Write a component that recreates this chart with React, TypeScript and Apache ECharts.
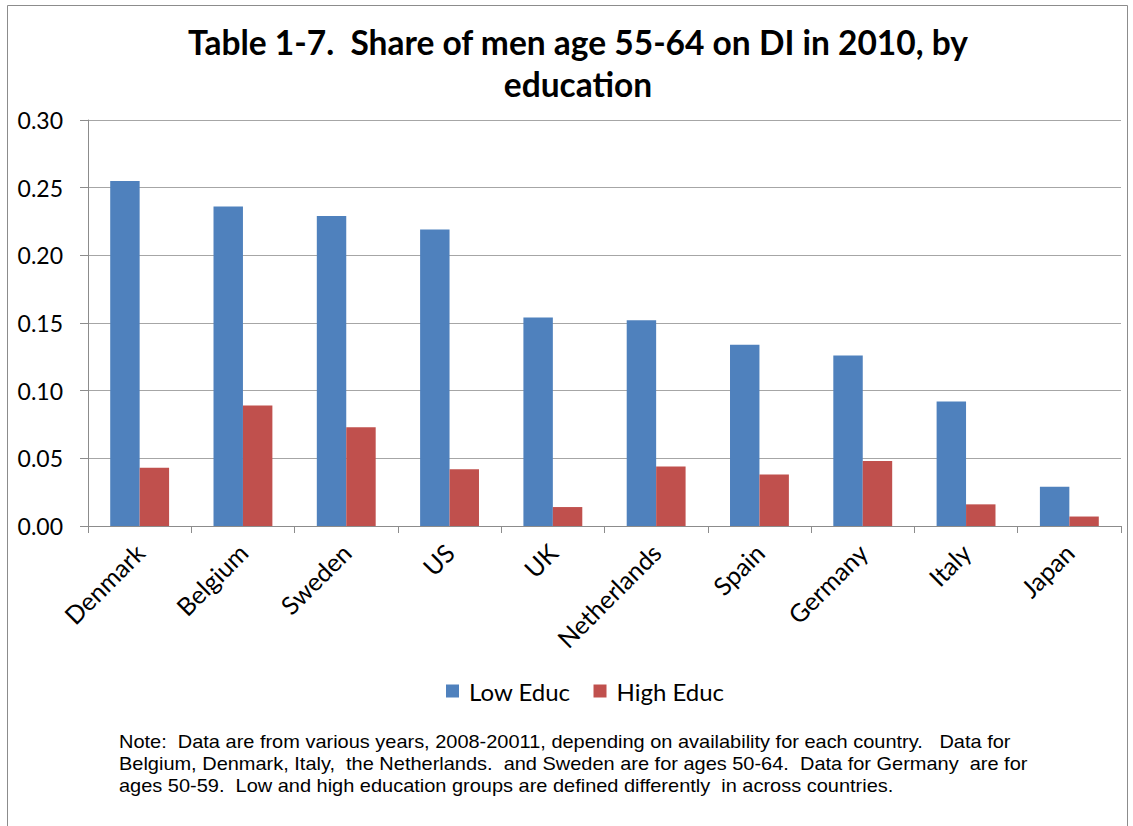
import React, { useEffect, useRef } from "react";
import * as echarts from "echarts";

const countries = ["Denmark", "Belgium", "Sweden", "US", "UK", "Netherlands", "Spain", "Germany", "Italy", "Japan"];
const lowEduc = [0.255, 0.236, 0.229, 0.219, 0.154, 0.152, 0.134, 0.126, 0.092, 0.029];
const highEduc = [0.043, 0.089, 0.073, 0.042, 0.014, 0.044, 0.038, 0.048, 0.016, 0.007];
const titleText = "Table 1-7.  Share of men age 55-64 on DI in 2010, by\neducation";
const noteLines = [
  "Note:  Data are from various years, 2008-20011, depending on availability for each country.   Data for",
  "Belgium, Denmark, Italy,  the Netherlands.  and Sweden are for ages 50-64.  Data for Germany  are for",
  "ages 50-59.  Low and high education groups are defined differently  in across countries.",
];

export default function App() {
  const ref = useRef<HTMLDivElement>(null);
  useEffect(() => {
    document.body.style.margin = "0";
    const chart = echarts.init(ref.current!, undefined, { renderer: "svg" });
    const font = "Lato, 'Open Sans', sans-serif";
    chart.setOption({
      animation: false,
      backgroundColor: "#ffffff",
      title: {
        text: titleText,
        left: 573,
        textAlign: "center",
        top: 16,
        textStyle: { fontFamily: font, fontWeight: "bold", fontSize: 33.5, lineHeight: 42, color: "#000" },
      },
      legend: {
        top: 674,
        left: 441,
        itemWidth: 13,
        itemHeight: 13,
        itemGap: 23,
        icon: "rect",
        textStyle: { fontFamily: font, fontSize: 24, color: "#000", padding: [0, 0, 0, 5] },
        data: ["Low Educ", "High Educ"],
      },
      grid: { left: 88, right: 12, top: 120, bottom: 300, containLabel: false },
      xAxis: {
        type: "category",
        data: countries,
        axisLine: { lineStyle: { color: "#8c8c8c", width: 1 } },
        axisTick: { show: true, length: 7, lineStyle: { color: "#8c8c8c" } },
        axisLabel: { rotate: 45, fontFamily: font, fontSize: 25, color: "#000", margin: 22, interval: 0 },
      },
      yAxis: {
        type: "value",
        min: 0,
        max: 0.3,
        interval: 0.05,
        axisLine: { show: true, lineStyle: { color: "#8c8c8c" } },
        axisTick: { show: true, length: 8, lineStyle: { color: "#8c8c8c" } },
        splitLine: { lineStyle: { color: "#a6a6a6", width: 1 } },
        axisLabel: {
          fontFamily: font,
          fontSize: 23,
          color: "#000",
          margin: 25,
          formatter: (v: number) => v.toFixed(2),
        },
      },
      series: [
        {
          name: "Low Educ",
          type: "bar",
          data: lowEduc,
          barGap: "0%",
          barCategoryGap: "43%",
          itemStyle: { color: "#4F81BD" },
        },
        {
          name: "High Educ",
          type: "bar",
          data: highEduc,
          barGap: "0%",
          barCategoryGap: "43%",
          itemStyle: { color: "#C0504D" },
        },
      ],
      graphic: [
        {
          type: "rect",
          shape: { x: 7.5, y: 5.5, width: 1120, height: 830 },
          style: { fill: "none", stroke: "#8c8c8c", lineWidth: 1 },
          silent: true,
        },
        ...noteLines.map((t, i) => ({
          type: "text",
          x: 119,
          y: 733 + i * 21.7,
          scaleX: 1.11,
          style: { text: t, fontFamily: "'Liberation Sans', Arial, sans-serif", fontSize: 18, fill: "#000" },
        })),
      ],
    });
    return () => chart.dispose();
  }, []);
  return <div ref={ref} style={{ width: 1133, height: 826 }} />;
}
